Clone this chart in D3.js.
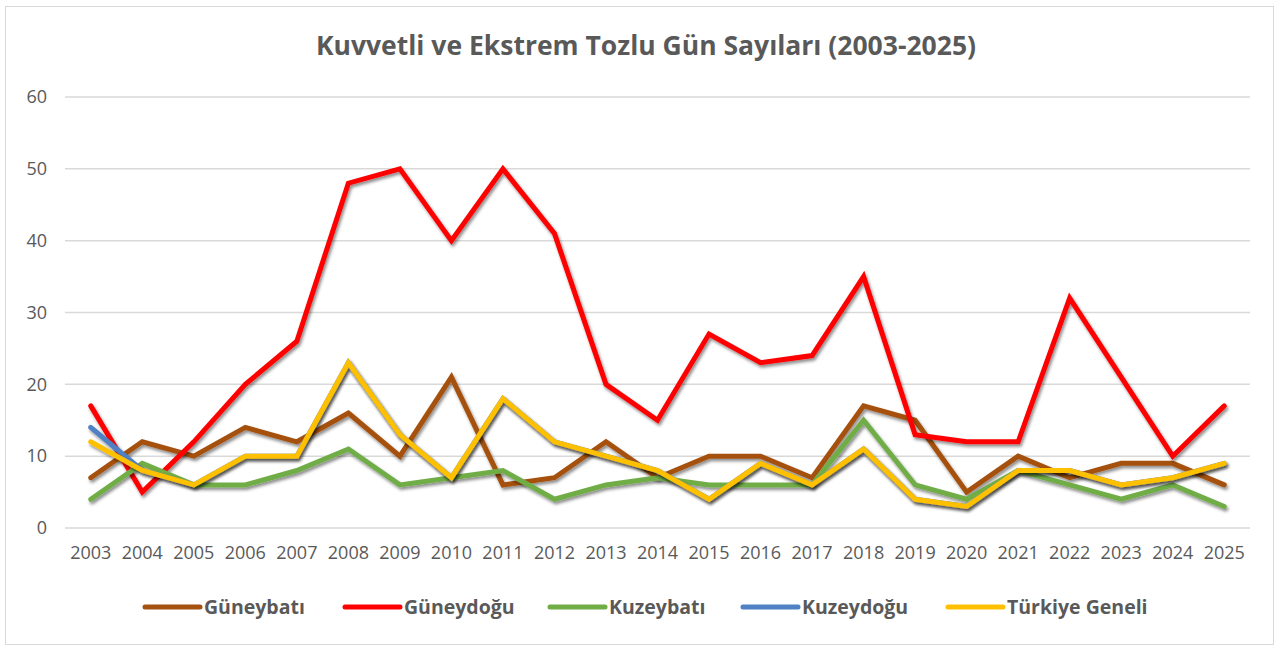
<!DOCTYPE html>
<html>
<head>
<meta charset="utf-8">
<script src="https://cdn.jsdelivr.net/npm/d3@7"></script>
<style>
  body { margin: 0; background: #fff; }
  text { font-family: "Open Sans", sans-serif; fill: #595959; }
</style>
</head>
<body>
<svg></svg>
<script>
// veriler
var years = ["2003","2004","2005","2006","2007","2008","2009","2010","2011","2012","2013","2014",
             "2015","2016","2017","2018","2019","2020","2021","2022","2023","2024","2025"]
var guneybati  = [7,12,10,14,12,16,10,21,6,7,12,7,10,10,7,17,15,5,10,7,9,9,6]
var guneydogu  = [17,5,12,20,26,48,50,40,50,41,20,15,27,23,24,35,13,12,12,32,21,10,17]
var kuzeybati  = [4,9,6,6,8,11,6,7,8,4,6,7,6,6,6,15,6,4,8,6,4,6,3]
var kuzeydogu  = [14,8,6,10,10,23,13,7,18,12,10,8,4,9,6,11,4,3,8,8,6,7,9]
var turkiye    = [12,8,6,10,10,23,13,7,18,12,10,8,4,9,6,11,4,3,8,8,6,7,9]
var yTicks = [0,10,20,30,40,50,60]
var seriesNames = ["Güneybatı","Güneydoğu","Kuzeybatı","Kuzeydoğu","Türkiye Geneli"]

var colours = ["#A5510F","#FF0000","#70AD47","#4F81C4","#FFC000"]
var allSeries = [guneybati, guneydogu, kuzeybati, kuzeydogu, turkiye]

var W = 1279, H = 648
var svg = d3.select("svg").attr("width", W).attr("height", H)

// gölge filtresi
var f = svg.append("defs").append("filter").attr("id","shadow")
    .attr("x","-5%").attr("y","-5%").attr("width","110%").attr("height","120%")
f.append("feDropShadow").attr("dx",1.5).attr("dy",2.5).attr("stdDeviation",1.8)
    .attr("flood-color","#000").attr("flood-opacity",0.45)

// dış çerçeve
svg.append("rect")
    .attr("x", 5.5).attr("y", 6.5).attr("width", 1268).attr("height", 638)
    .attr("fill", "#fff").attr("stroke", "#d9d9d9").attr("stroke-width", 1)

var plotLeft = 65, plotRight = 1250, plotTop = 97, plotBottom = 528

var x = d3.scaleBand().domain(years).range([plotLeft, plotRight])
var y = d3.scaleLinear().domain([0, 60]).range([plotBottom, plotTop])

// başlık
svg.append("text")
    .attr("x", 646).attr("y", 55)
    .attr("text-anchor", "middle")
    .style("font-size", "26.5px").style("font-weight", "bold")
    .text("Kuvvetli ve Ekstrem Tozlu Gün Sayıları (2003-2025)")

// yatay ızgara
svg.append("g").selectAll("line").data(yTicks).enter().append("line")
    .attr("x1", plotLeft).attr("x2", plotRight)
    .attr("y1", function(d){ return y(d) }).attr("y2", function(d){ return y(d) })
    .attr("stroke", "#d9d9d9").attr("stroke-width", 1.5)

// y ekseni etiketleri
var yAxis = svg.append("g").attr("transform", "translate(" + (plotLeft - 18) + ",0)")
    .call(d3.axisLeft(y).tickValues(yTicks).tickSize(0).tickPadding(0))
yAxis.select(".domain").remove()
yAxis.selectAll("text").style("font-size", "18px").style("fill", "#595959")

// x ekseni etiketleri
var xAxis = svg.append("g").attr("transform", "translate(0," + (plotBottom + 18) + ")")
    .call(d3.axisBottom(x).tickSize(0).tickPadding(0))
xAxis.select(".domain").remove()
xAxis.selectAll("text").style("font-size", "18px").style("fill", "#595959")

// çizgiler
var line = d3.line()
    .x(function(d, i){ return x(years[i]) + x.bandwidth()/2 })
    .y(function(d){ return y(d) })

allSeries.forEach(function(s, i){
    svg.append("path")
        .datum(s)
        .attr("d", line)
        .attr("fill", "none")
        .attr("stroke", colours[i])
        .attr("stroke-width", 5)
        .attr("stroke-linejoin", "miter")
        .attr("stroke-linecap", "round")
        .attr("filter", "url(#shadow)")
})

// lejant
var legendX = [145, 345, 550, 743, 948]
var lg = svg.append("g")
seriesNames.forEach(function(n, i){
    lg.append("line")
        .attr("x1", legendX[i]).attr("x2", legendX[i] + 55)
        .attr("y1", 607).attr("y2", 607)
        .attr("stroke", colours[i]).attr("stroke-width", 5)
        .attr("stroke-linecap", "round")
    lg.append("text")
        .attr("x", legendX[i] + 59).attr("y", 614)
        .style("font-size", "19.5px").style("font-weight", "bold")
        .text(n)
})
</script>
</body>
</html>
